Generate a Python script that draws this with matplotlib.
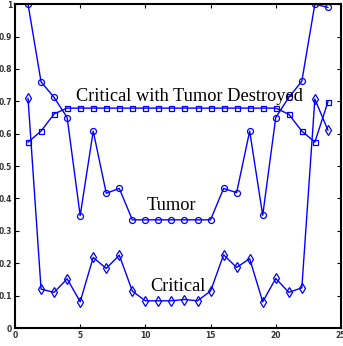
import matplotlib
matplotlib.use("Agg")
import matplotlib.pyplot as plt

# time steps
steps = list(range(1, 25))

# tumor (circles)
tumor = [1.0, 0.76, 0.712, 0.65, 0.347, 0.608, 0.416, 0.431,
         0.334, 0.334, 0.334, 0.334, 0.334, 0.334, 0.334,
         0.431, 0.418, 0.608, 0.348, 0.65, 0.712, 0.762, 1.0, 0.99]

# critical with tumor destroyed (squares)
destroyed = [0.574, 0.608, 0.661, 0.679, 0.679, 0.679, 0.679, 0.679,
             0.679, 0.679, 0.679, 0.679, 0.679, 0.679, 0.679, 0.679,
             0.679, 0.679, 0.679, 0.679, 0.66, 0.608, 0.574, 0.698]

# critical (diamonds)
critical = [0.709, 0.12, 0.110, 0.152, 0.081, 0.218, 0.184, 0.225,
            0.114, 0.084, 0.084, 0.084, 0.088, 0.084, 0.114, 0.226,
            0.187, 0.214, 0.081, 0.153, 0.110, 0.124, 0.707, 0.611]

xticks = [0, 5, 10, 15, 20, 25]
yticks = [0, 0.1, 0.2, 0.3, 0.4, 0.5, 0.6, 0.7, 0.8, 0.9, 1]
ytick_labels = ['0', '0.1', '0.2', '0.3', '0.4', '0.5', '0.6', '0.7', '0.8', '0.9', '1']

fig = plt.figure(figsize=(3.43, 3.46), dpi=100)
ax = fig.add_axes([0.0437, 0.052, 0.9503, 0.936])

blue = '#0000ff'
ax.plot(steps, tumor, '-o', color=blue, lw=1, ms=4.3, mfc='none', mew=0.9)
ax.plot(steps, destroyed, '-s', color=blue, lw=1, ms=3.6, mfc='none', mew=0.9)
ax.plot(steps, critical, '-d', color=blue, lw=1, ms=4.6, mfc='none', mew=0.9)

ax.set_xlim(0, 25)
ax.set_ylim(0, 1)
ax.set_xticks(xticks)
ax.set_yticks(yticks)
ax.set_yticklabels(ytick_labels)
ax.tick_params(direction='in', top=True, right=True, length=3, width=0.8,
               labelsize=5.5, labelcolor='#333333', pad=2)
for lab in ax.get_xticklabels() + ax.get_yticklabels():
    lab.set_fontweight('bold')
for s in ax.spines.values():
    s.set_linewidth(1.5)

# series labels placed inside the plot
serif = 'Liberation Serif'
ax.text(13.4, 0.715, 'Critical with Tumor Destroyed', family=serif,
        fontsize=13.2, ha='center', va='center')
ax.text(12.0, 0.377, 'Tumor', family=serif, fontsize=13.2, ha='center', va='center')
ax.text(12.5, 0.127, 'Critical', family=serif, fontsize=13.2, ha='center', va='center')

fig.savefig('out.png', dpi=100)
